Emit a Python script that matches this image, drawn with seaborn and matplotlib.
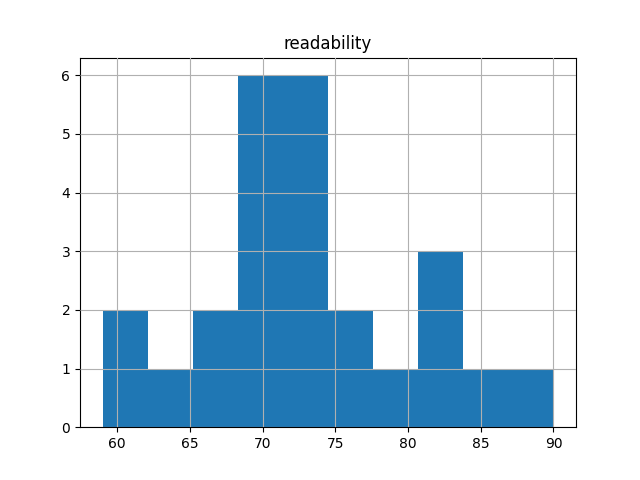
import pandas as pd
import numpy as np
import matplotlib
matplotlib.use("Agg")
import matplotlib.pyplot as plt
import seaborn as sns

# readability scores
readability = [59, 61, 63, 66, 67,
               69, 70, 70, 71, 71, 71,
               72, 72, 73, 73, 74, 74,
               75, 77, 79, 81, 82, 83, 85, 90]

df = pd.DataFrame({'readability': readability})

fig, ax = plt.subplots(figsize=(6.4, 4.8), dpi=100)
sns.histplot(data=df, x='readability', bins=10, color='#1f77b4',
             alpha=1, linewidth=0, ax=ax)
ax.set_title("readability")
ax.set_xlabel("")
ax.set_ylabel("")
ax.grid(True, color='#b0b0b0', linewidth=0.8)
ax.set_axisbelow(False)

plt.savefig("out.png")
